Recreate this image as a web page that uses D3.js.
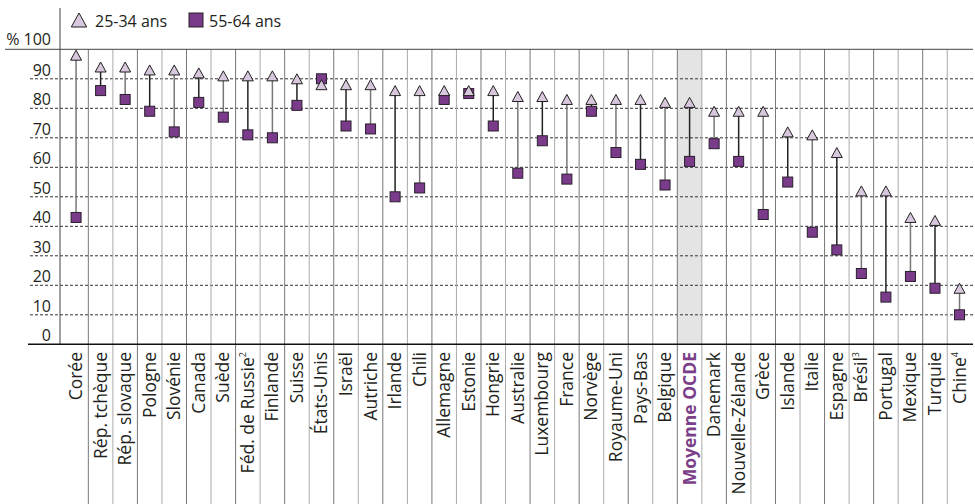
<!DOCTYPE html>
<html>
<head>
<meta charset="utf-8">
<script src="https://cdn.jsdelivr.net/npm/d3@7"></script>
<style>
  body { margin: 0; background: #fff; }
  svg { display: block; font-family: "Open Sans", "Noto Sans", sans-serif; }
</style>
</head>
<body>
<div id="chart"></div>
<script>
// pays, dans l'ordre du graphique
const countries = ["Corée", "Rép. tchèque", "Rép. slovaque", "Pologne", "Slovénie", "Canada", "Suède",
  "Féd. de Russie", "Finlande", "Suisse", "États-Unis", "Israël", "Autriche", "Irlande", "Chili",
  "Allemagne", "Estonie", "Hongrie", "Australie", "Luxembourg", "France", "Norvège", "Royaume-Uni",
  "Pays-Bas", "Belgique", "Moyenne OCDE", "Danemark", "Nouvelle-Zélande", "Grèce", "Islande", "Italie",
  "Espagne", "Brésil", "Portugal", "Mexique", "Turquie", "Chine"];
const notes = {"Féd. de Russie": "2", "Brésil": "3", "Chine": "4"};

// % de la population ayant au moins un diplôme du 2e cycle du secondaire
const young = [98, 94, 94, 93, 93, 92, 91, 91, 91, 90, 88, 88, 88, 86, 86, 86, 86, 86, 84, 84, 83, 83, 83, 83,
  82, 82, 79, 79, 79, 72, 71, 65, 52, 52, 43, 42, 19];
const old = [43, 86, 83, 79, 72, 82, 77, 71, 70, 81, 90, 74, 73, 50, 53, 83, 85, 74, 58, 69, 56, 79, 65, 61,
  54, 62, 68, 62, 44, 55, 38, 32, 24, 16, 23, 19, 10];

const yTicks = [0, 10, 20, 30, 40, 50, 60, 70, 80, 90];
const highlight = "Moyenne OCDE";

const W = 975, H = 504;
const svg = d3.select("#chart").append("svg")
  .attr("width", W).attr("height", H);

const y = d3.scaleLinear().domain([0, 100]).range([344.3, 49.3]);
const x = d3.scaleBand().domain(countries).range([63.8, 971.8]);

// colonne grisée de la moyenne
svg.append("rect")
  .attr("x", x(highlight)).attr("y", y(100))
  .attr("width", x.bandwidth()).attr("height", y(0) - y(100))
  .attr("fill", "#e3e4e3");

// quadrillage pointillé
svg.append("g").selectAll("line")
  .data(yTicks.filter(d => d > 0))
  .join("line")
  .attr("x1", 30).attr("x2", 973)
  .attr("y1", d => y(d)).attr("y2", d => y(d))
  .attr("stroke", "#333").attr("stroke-width", 1)
  .attr("stroke-dasharray", "3,2");

// séparateurs verticaux
svg.append("g").selectAll("line")
  .data(countries.slice(1))
  .join("line")
  .attr("x1", d => x(d)).attr("x2", d => x(d))
  .attr("y1", y(100)).attr("y2", H)
  .attr("stroke", (d, i) => i % 2 ? "#aaa" : "#777")
  .attr("stroke-width", 1);

// cadres
svg.append("line").attr("x1", 5).attr("x2", 973).attr("y1", y(100)).attr("y2", y(100))
  .attr("stroke", "#444").attr("stroke-width", 1);
svg.append("line").attr("x1", 60).attr("x2", 60).attr("y1", 8).attr("y2", y(0))
  .attr("stroke", "#444").attr("stroke-width", 1);
svg.append("line").attr("x1", 28).attr("x2", 973).attr("y1", y(0)).attr("y2", y(0))
  .attr("stroke", "#111").attr("stroke-width", 1.5);

// étiquettes de l'axe Y
svg.append("g").selectAll("text")
  .data(yTicks)
  .join("text")
  .attr("x", 51).attr("y", d => y(d) - 3)
  .attr("text-anchor", "end")
  .attr("font-size", 16).attr("fill", "#231f20")
  .text(d => d);
svg.append("text").attr("x", 51).attr("y", y(100) - 4)
  .attr("text-anchor", "end").attr("font-size", 16).attr("fill", "#231f20")
  .text("% 100");

const data = countries.map((c, i) => ({c, young: young[i], old: old[i], i}));
const cx = d => x(d.c) + x.bandwidth() / 2;

// traits entre les deux groupes d'âge
svg.append("g").selectAll("line")
  .data(data)
  .join("line")
  .attr("x1", cx).attr("x2", cx)
  .attr("y1", d => y(d.young)).attr("y2", d => y(d.old))
  .attr("stroke", d => d.i % 2 ? "#222" : "#777")
  .attr("stroke-width", 1.5);

svg.append("g").selectAll("rect")
  .data(data)
  .join("rect")
  .attr("x", d => cx(d) - 5).attr("y", d => y(d.old) - 5)
  .attr("width", 10).attr("height", 10)
  .attr("fill", "#7a3b8a").attr("stroke", "#2a1f2d").attr("stroke-width", 1);

const tri = s => `M0,${-s}L${s * 1.1},${s}L${-s * 1.1},${s}Z`;
svg.append("g").selectAll("path")
  .data(data)
  .join("path")
  .attr("transform", d => `translate(${cx(d)},${y(d.young)})`)
  .attr("d", tri(5))
  .attr("fill", "#d7c8de").attr("stroke", "#231f20").attr("stroke-width", 1);

// noms des pays
const labels = svg.append("g").selectAll("text")
  .data(countries)
  .join("text")
  .attr("transform", d => `translate(${x(d) + x.bandwidth() / 2 + 6},352) rotate(-90)`)
  .attr("text-anchor", "end")
  .attr("font-size", 17.5)
  .attr("font-weight", d => d === highlight ? "bold" : null)
  .attr("fill", d => d === highlight ? "#7b3f8a" : "#231f20");
labels.append("tspan").text(d => d);
labels.filter(d => notes[d]).append("tspan")
  .attr("font-size", 9).attr("dy", -8)
  .text(d => notes[d]);

// légende
const leg = svg.append("g");
leg.append("path").attr("transform", "translate(79,20)").attr("d", tri(7))
  .attr("fill", "#d7c8de").attr("stroke", "#231f20");
leg.append("text").attr("x", 95).attr("y", 27).attr("font-size", 16).attr("fill", "#231f20")
  .text("25-34 ans");
leg.append("rect").attr("x", 189).attr("y", 13).attr("width", 14).attr("height", 14)
  .attr("fill", "#7a3b8a").attr("stroke", "#2a1f2d");
leg.append("text").attr("x", 209).attr("y", 27).attr("font-size", 16).attr("fill", "#231f20")
  .text("55-64 ans");
</script>
</body>
</html>
